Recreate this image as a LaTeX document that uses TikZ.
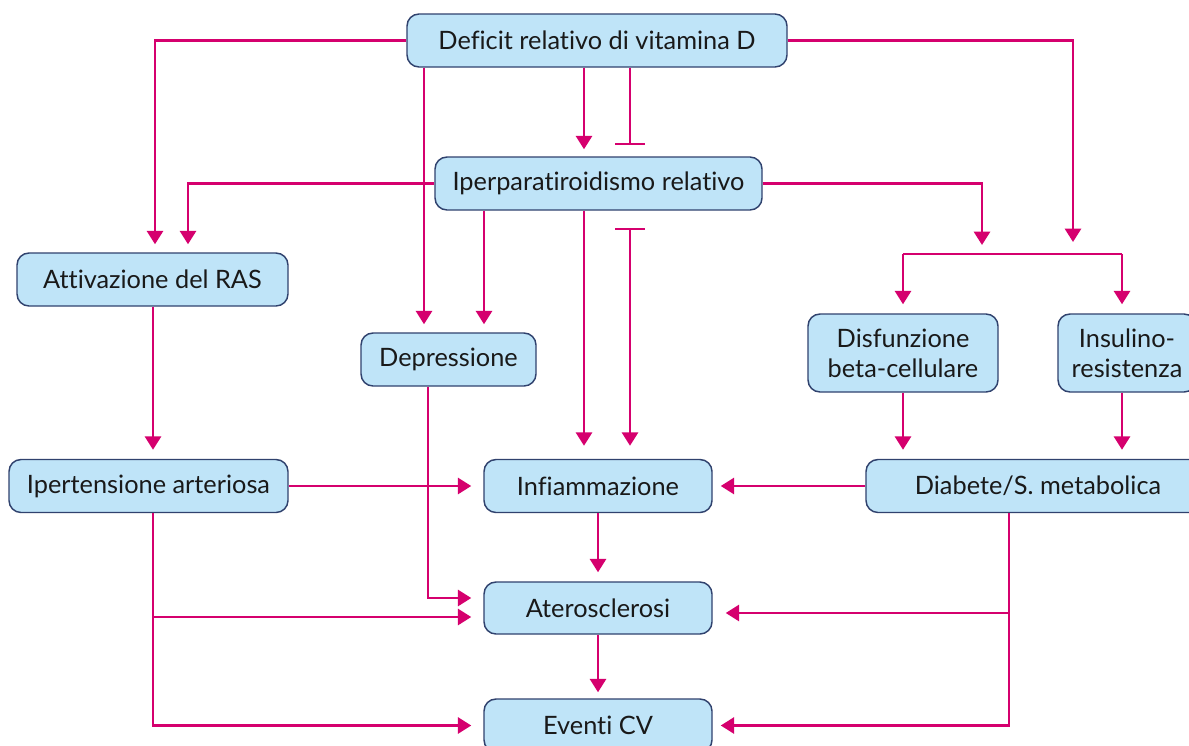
\documentclass[tikz,border=0pt]{standalone}
\usepackage{fontspec}
\setmainfont{Lato}[Ligatures={NoCommon,NoContextual}]
\usetikzlibrary{arrows.meta}
\definecolor{linkmag}{RGB}{213,0,110}
\definecolor{boxfill}{RGB}{191,228,248}
\definecolor{boxline}{RGB}{48,66,110}
\tikzset{
  box/.style={draw=boxline, fill=boxfill, line width=1.1pt, rounded corners=9pt,
    inner sep=0pt, font=\fontsize{19}{22.5}\selectfont, text=black!90, align=center},
  link/.style={draw=linkmag, line width=2pt},
  arr/.style={link, -{Triangle[width=12pt,length=10pt]}},
  block/.style={link, -{Bar[width=22pt]}},
  blockarr/.style={link, {Bar[width=22pt]}-{Triangle[width=12pt,length=10pt]}},
}
\begin{document}
\begin{tikzpicture}[x=0.75pt, y=-0.75pt]
\clip (0,0) rectangle (1189,746);
\fill[white] (0,0) rectangle (1189,746);

% boxes
\node[box, minimum width=285pt, minimum height=39.75pt] (def) at (597,40.5) {Deficit relativo di vitamina D};
\node[box, minimum width=245.25pt, minimum height=39.75pt] (ipp) at (598.5,183.5) {Iperparatiroidismo relativo};
\node[box, minimum width=203.25pt, minimum height=39.75pt] (ras) at (152.5,279.5) {Attivazione del RAS};
\node[box, minimum width=131.25pt, minimum height=39.75pt] (dep) at (448.5,359.5) {Depressione};
\node[box, minimum width=142.5pt, minimum height=58.5pt] (dis) at (903,353) {Disfunzione\\beta-cellulare};
\node[box, minimum width=103.5pt, minimum height=58.5pt] (ins) at (1127,353) {Insulino-\\resistenza};
\node[box, minimum width=209.25pt, minimum height=39.75pt] (ipt) at (148.5,486) {Ipertensione arteriosa};
\node[box, minimum width=171pt, minimum height=39.75pt] (inf) at (598,486) {Infiammazione};
\node[box, minimum width=258pt, minimum height=39.75pt] (dia) at (1038,486) {Diabete/S. metabolica};
\node[box, minimum width=171pt, minimum height=39pt] (ate) at (598,608) {Aterosclerosi};
\node[box, minimum width=171pt, minimum height=39.75pt] (ev) at (598,725.5) {Eventi CV};

% columns and rows used by the connectors
\coordinate (cA) at (155,0);
\coordinate (cB) at (188,0);
\coordinate (cC) at (424,0);
\coordinate (cD) at (484,0);
\coordinate (cE) at (584,0);
\coordinate (cF) at (630,0);
\coordinate (cG) at (982,0);
\coordinate (cH) at (1073,0);
\coordinate (cI) at (153,0);
\coordinate (cJ) at (428,0);
\coordinate (cM) at (1009,0);
\coordinate (rA) at (0,598);
\coordinate (rB) at (0,617);
\coordinate (rD) at (0,613);
\coordinate (jl) at (903,254);
\coordinate (jr) at (1122,254);

% from the vitamin D deficit
\draw[arr, shorten >=6pt] (def.west) -| (ras.north -| cA);
\draw[arr, shorten >=6pt] (def.south -| cC) -- (dep.north -| cC);
\draw[arr, shorten >=5.25pt] (def.south -| cE) -- (ipp.north -| cE);
\draw[block, shorten >=8.25pt] (def.south -| cF) -- (ipp.north -| cF);
\draw[arr, shorten >=9pt] (def.east) -| (jl -| cH);

% from relative hyperparathyroidism
\draw[arr, shorten >=6pt] (ipp.west) -| (ras.north -| cB);
\draw[arr, shorten >=6.75pt] (ipp.east) -| (jl -| cG);
\draw[arr, shorten >=6pt] (ipp.south -| cD) -- (dep.north -| cD);
\draw[arr, shorten >=9.75pt] (ipp.south -| cE) -- (inf.north -| cE);
\draw[blockarr, shorten <=12.75pt, shorten >=9.75pt] (ipp.south -| cF) -- (inf.north -| cF);

% split towards beta-cell dysfunction and insulin resistance
\draw[link] (jl) -- (jr);
\draw[arr, shorten >=6.75pt] (jl) -- (dis.north -| jl);
\draw[arr, shorten >=6.75pt] (jr) -- (ins.north -| jr);

% left column
\draw[arr, shorten >=6.75pt] (ras.south -| cI) -- (ipt.north -| cI);
\draw[arr, shorten >=9pt] (ipt.east) -- (inf.west);
\draw[arr, shorten >=9pt] (ipt.south -| cI) |- (ev.west);
\draw[arr, shorten >=9pt] (rB -| cI) -- (ate.west |- rB);
\draw[arr, shorten >=9pt] (dep.south -| cJ) |- (ate.west |- rA);

% right column
\draw[arr, shorten >=6.75pt] (dis.south) -- (dia.north -| dis.south);
\draw[arr, shorten >=6.75pt] (ins.south -| jr) -- (dia.north -| jr);
\draw[arr, shorten >=6pt] (dia.west) -- (inf.east);
\draw[arr, shorten >=6pt] (dia.south -| cM) |- (ev.east);
\draw[arr, shorten >=9.75pt] (rD -| cM) -- (ate.east |- rD);

% central chain
\draw[arr, shorten >=6.75pt] (inf.south) -- (ate.north);
\draw[arr, shorten >=4.5pt] (ate.south) -- (ev.north);
\end{tikzpicture}
\end{document}
